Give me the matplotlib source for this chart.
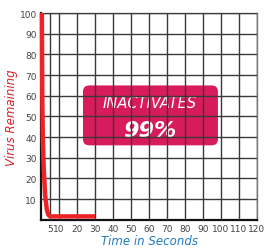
import matplotlib
matplotlib.use("Agg")
import matplotlib.pyplot as plt
from matplotlib.patches import FancyBboxPatch

# Kurve: Virus verbleibend ueber Zeit
zeit = [0.5, 0.7, 1.0, 1.5, 2.3, 3.2, 4.0, 5.0, 30.0]
virus = [100, 60, 40, 25, 12, 5, 2.5, 1.6, 1.6]

x_ticks = [5, 10, 20, 30, 40, 50, 60, 70, 80, 90, 100, 110, 120]
y_ticks = [10, 20, 30, 40, 50, 60, 70, 80, 90, 100]

fig = plt.figure(figsize=(2.67, 2.51), dpi=100)
ax = fig.add_axes([0.1536, 0.1207, 0.809, 0.823])

ax.set_xlim(0, 120)
ax.set_ylim(0, 100)
ax.set_xticks(x_ticks)
ax.set_yticks(y_ticks)
ax.tick_params(labelsize=6.5, colors="#444444", length=0, pad=3)

ax.grid(True, color="#3a3a3a", linewidth=1.0)
ax.set_axisbelow(False)

for s in ["top", "right"]:
    ax.spines[s].set_color("#777777")
    ax.spines[s].set_linewidth(1.0)
for s in ["left", "bottom"]:
    ax.spines[s].set_color("#111111")
    ax.spines[s].set_linewidth(1.6)

# Kasten mit Text
box = FancyBboxPatch((23.3, 36), 75, 29,
                     boxstyle="round,pad=0,rounding_size=3.5",
                     mutation_aspect=0.87,
                     facecolor="#d81b5c", edgecolor="none", zorder=0.5)
ax.add_patch(box)
ax.text(60.5, 56.5, "INACTIVATES", color="white", fontsize=10.5, style="italic",
        fontweight="normal", family="DejaVu Sans",
        ha="center", va="center", zorder=0.6)
ax.text(60.5, 43.5, "99%", color="white", fontsize=16, style="italic",
        fontweight="bold", ha="center", va="center", zorder=0.6)

ax.plot(zeit, virus, color="#ec2327", linewidth=3.2, solid_capstyle="butt",
        zorder=3, clip_on=False)

ax.set_ylabel("Virus Remaining", color="#d8232a", fontsize=8.5, style="italic",
              labelpad=1)
ax.set_xlabel("Time in Seconds", color="#1f7bc0", fontsize=8.5, style="italic",
              labelpad=1)

fig.savefig("out.png", dpi=100)
